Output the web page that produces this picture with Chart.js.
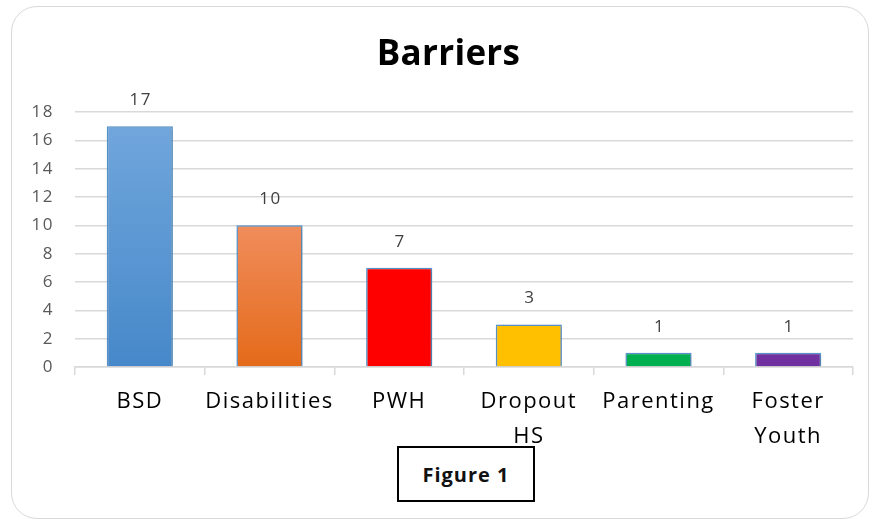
<!DOCTYPE html>
<html>
<head>
<meta charset="utf-8">
<script src="https://cdn.jsdelivr.net/npm/chart.js@4/dist/chart.umd.min.js"></script>
<style>
  html, body { margin: 0; padding: 0; background: #ffffff; }
  #wrap { position: relative; width: 882px; height: 527px; overflow: hidden; }
  #frame { position: absolute; left: 11px; top: 6px; width: 858px; height: 513px;
           border: 1.5px solid #d9d9d9; border-radius: 26px; box-sizing: border-box; }
  canvas { position: absolute; left: 0; top: 0; }
  #fig { position: absolute; left: 397px; top: 446px; width: 138px; height: 56px;
         border: 2px solid #000; box-sizing: border-box; background: #fff;
         font-family: "Open Sans", sans-serif; font-weight: bold; font-size: 20px; letter-spacing: 1px;
         display: flex; align-items: center; justify-content: center; color: #111; }
</style>
</head>
<body>
<div id="wrap">
  <div id="frame"></div>
  <canvas id="c" width="882" height="527"></canvas>
  <div id="fig">Figure 1</div>
</div>
<script>
const categories = ["BSD", "Disabilities", "PWH", ["Dropout", "HS"], "Parenting", ["Foster", "Youth"]];
const counts = [17, 10, 7, 3, 1, 1];
const barColors = ["#5b9bd5", "#ed7d31", "#ff0000", "#ffc000", "#00b050", "#7030a0"];
const gradientStops = {
  0: ["#70a6dc", "#4688c9"],
  1: ["#f08d5c", "#e46a1a"]
};
const yTicks = [0, 2, 4, 6, 8, 10, 12, 14, 16, 18];

function barFill(ctx) {
  const chart = ctx.chart;
  const i = ctx.dataIndex;
  if (!chart.chartArea || !gradientStops[i]) return barColors[i];
  const y = chart.scales.y;
  const top = y.getPixelForValue(ctx.raw);
  const bottom = y.getPixelForValue(0);
  const g = chart.ctx.createLinearGradient(0, top, 0, bottom);
  g.addColorStop(0, gradientStops[i][0]);
  g.addColorStop(1, gradientStops[i][1]);
  return g;
}

const spacingPlugin = {
  id: 'spacing',
  beforeDraw(chart) {
    const tb = chart.titleBlock;
    if (tb && !tb._spaced) {
      const orig = tb.draw;
      tb.draw = function (...args) {
        const c = chart.ctx;
        c.save();
        c.letterSpacing = '0.3px';
        c.translate(17, 0);
        orig.apply(this, args);
        c.restore();
      };
      tb._spaced = true;
    }
    chart.ctx.letterSpacing = '1.5px';
  }
};

const shadowPlugin = {
  id: 'shadow',
  beforeDatasetsDraw(chart) {
    const c = chart.ctx;
    c.save();
    c.shadowColor = 'rgba(0,0,0,0.28)';
    c.shadowBlur = 4;
    c.shadowOffsetX = 1;
    c.shadowOffsetY = 1;
  },
  afterDatasetsDraw(chart) {
    chart.ctx.restore();
  }
};

const labelPlugin = {
  id: 'valueLabels',
  afterDatasetsDraw(chart) {
    const c = chart.ctx;
    const meta = chart.getDatasetMeta(0);
    c.save();
    c.letterSpacing = '1.5px';
    c.font = '17px "Open Sans", sans-serif';
    c.fillStyle = '#404040';
    c.textAlign = 'center';
    c.textBaseline = 'middle';
    meta.data.forEach((bar, i) => {
      c.fillText(String(counts[i]), bar.x + 1, bar.y - 26);
    });
    c.restore();
  }
};

new Chart(document.getElementById('c'), {
  type: 'bar',
  data: {
    labels: categories,
    datasets: [{
      data: counts,
      backgroundColor: barFill,
      borderColor: '#5b9bd5',
      borderWidth: 1.5,
      categoryPercentage: 1.0,
      barPercentage: 0.51
    }]
  },
  options: {
    responsive: false,
    animation: false,
    devicePixelRatio: 1,
    layout: { padding: { left: 10, right: 29, top: 34, bottom: 0 } },
    plugins: {
      legend: { display: false },
      tooltip: { enabled: false },
      title: {
        display: true,
        text: 'Barriers',
        color: '#000000',
        font: { family: '"Open Sans", sans-serif', size: 35, weight: 'bold', lineHeight: 1.2 },
        padding: { top: 0, bottom: 36 }
      }
    },
    scales: {
      x: {
        offset: true,
        grid: { offset: true, drawOnChartArea: false, drawTicks: true, tickLength: 8, color: '#d9d9d9', lineWidth: 1.5 },
        border: { display: true, color: '#d9d9d9', width: 1.5 },
        ticks: {
          color: '#000000',
          font: { family: '"Open Sans", sans-serif', size: 22, lineHeight: 1.6 },
          padding: 9,
          maxRotation: 0,
          autoSkip: false
        },
        afterFit(scale) { scale.height = 160; }
      },
      y: {
        min: 0,
        max: 18,
        afterBuildTicks(scale) { scale.ticks = yTicks.map(v => ({ value: v })); },
        grid: { color: '#d9d9d9', lineWidth: 1.5, drawTicks: false },
        border: { display: false },
        ticks: {
          color: '#595959',
          font: { family: '"Open Sans", sans-serif', size: 17 },
          padding: 21
        },
        afterFit(scale) { scale.width = 65; }
      }
    }
  },
  plugins: [spacingPlugin, shadowPlugin, labelPlugin]
});
</script>
</body>
</html>
